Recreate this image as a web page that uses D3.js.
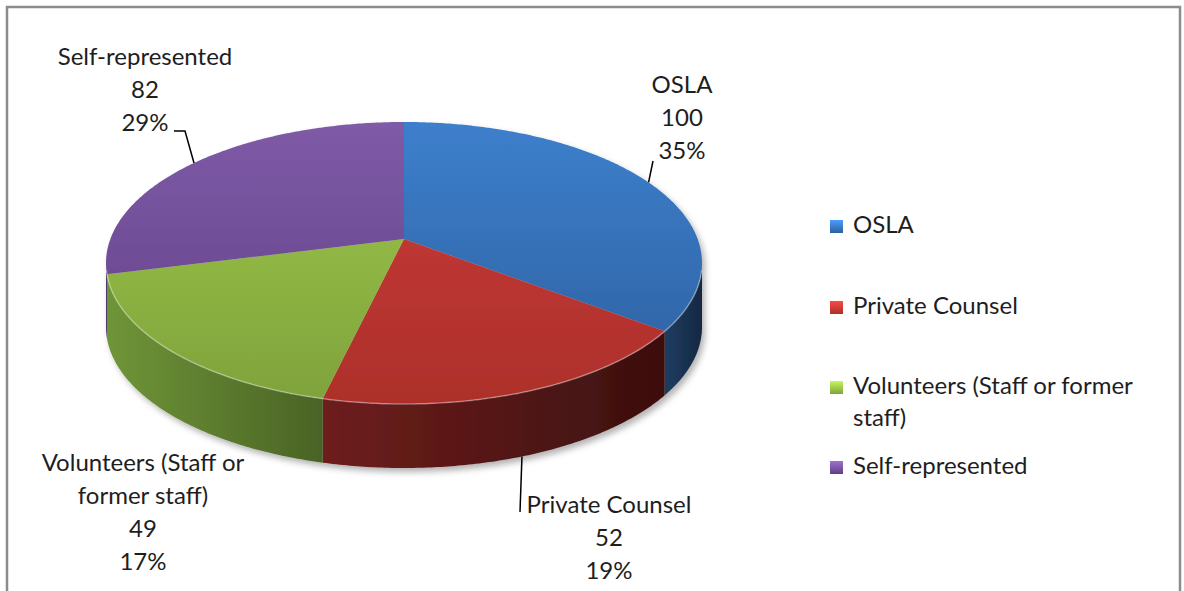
<!DOCTYPE html>
<html>
<head>
<meta charset="utf-8">
<script src="https://cdn.jsdelivr.net/npm/d3@7"></script>
<style>
  body { margin: 0; background: #fff; }
  svg text { font-family: Lato, "Open Sans", sans-serif; fill: #1e1e1e; }
</style>
</head>
<body>
<svg id="chart" width="1184" height="591"></svg>
<script>
// data
const categories = ["OSLA", "Private Counsel", "Volunteers (Staff or former staff)", "Self-represented"];
const values = [100, 52, 49, 82];
const percentLabels = ["35%", "19%", "17%", "29%"];

// how the names wrap in the data labels / legend
const labelNameLines = [["OSLA"], ["Private Counsel"], ["Volunteers (Staff or", "former staff)"], ["Self-represented"]];
const legendNameLines = [["OSLA"], ["Private Counsel"], ["Volunteers (Staff or former", "staff)"], ["Self-represented"]];

// top / side colours
const topLight = ["#3d7fcc", "#c93d38", "#9ec84c", "#7f5ba7"];
const topDark = ["#2d5f9e", "#ad2f2b", "#7fa23b", "#5f3f85"];
const sideLight = ["#1f3d63", "#6e1e1c", "#6f9538", "#5a3d7c"];
const sideDark = ["#142842", "#3c0f0f", "#4a6325", "#3b2752"];

const W = 1184, H = 591;
const svg = d3.select("#chart");
const defs = svg.append("defs");

// frame
svg.append("rect")
    .attr("x", 7).attr("y", 7)
    .attr("width", 1173).attr("height", 640)
    .attr("fill", "#fff")
    .attr("stroke", "#8c8c8c")
    .attr("stroke-width", 2.5);

/*
 * 3D pie geometry (perspective ellipse)
 */
const cx = 404, cy = 263, rx = 298, ry = 141, tilt = -0.17, depth = 64;

function proj(theta, dz = 0) {
    const c = Math.sin(theta), s = -Math.cos(theta);
    const den = 1 + tilt * s;
    return [cx + rx * c * Math.sqrt(1 - tilt * tilt) / den, cy + ry * (s + tilt) / den + dz];
}
const hub = [cx, cy + ry * tilt];

function arcPts(a0, a1, dz = 0) {
    const n = Math.max(2, Math.ceil(Math.abs(a1 - a0) / 0.01));
    return d3.range(n + 1).map(i => proj(a0 + (a1 - a0) * i / n, dz));
}

const pie = d3.pie().sort(null).value(d => d);
const arcs = pie(values);

// gradients
arcs.forEach((a, i) => {
    const gt = defs.append("linearGradient")
        .attr("id", "top" + i)
        .attr("gradientUnits", "userSpaceOnUse")
        .attr("x1", 0).attr("y1", cy - ry).attr("x2", 0).attr("y2", cy + ry);
    gt.append("stop").attr("offset", "0%").attr("stop-color", topLight[i]);
    gt.append("stop").attr("offset", "100%").attr("stop-color", topDark[i]);

    const gs = defs.append("linearGradient")
        .attr("id", "side" + i)
        .attr("x1", 0).attr("y1", 0).attr("x2", 1).attr("y2", 0);
    gs.append("stop").attr("offset", "0%").attr("stop-color", sideLight[i]);
    gs.append("stop").attr("offset", "100%").attr("stop-color", sideDark[i]);

    const gl = defs.append("linearGradient")
        .attr("id", "leg" + i)
        .attr("x1", 0).attr("y1", 0).attr("x2", 0).attr("y2", 1);
    gl.append("stop").attr("offset", "0%").attr("stop-color", d3.color(topLight[i]).brighter(0.6));
    gl.append("stop").attr("offset", "100%").attr("stop-color", topDark[i]);
});

const shadow = defs.append("filter").attr("id", "shadow")
    .attr("x", "-10%").attr("y", "-10%").attr("width", "120%").attr("height", "130%");
shadow.append("feDropShadow")
    .attr("dx", 3).attr("dy", 4).attr("stdDeviation", 3)
    .attr("flood-color", "#000").attr("flood-opacity", 0.3);

const pieG = svg.append("g").attr("filter", "url(#shadow)");
const line = d3.line();

// visible outer wall: lower half of the projected ellipse
const v0 = Math.acos(tilt), v1 = 2 * Math.PI - Math.acos(tilt);

arcs.forEach((a, i) => {
    const lo = Math.max(a.startAngle, v0), hi = Math.min(a.endAngle, v1);
    if (hi <= lo) return;
    const pts = arcPts(lo, hi).concat(arcPts(hi, lo, depth));
    pieG.append("path")
        .attr("d", line(pts) + "Z")
        .attr("fill", `url(#side${i})`);
});

arcs.forEach((a, i) => {
    const pts = [hub].concat(arcPts(a.startAngle, a.endAngle));
    pieG.append("path")
        .attr("d", line(pts) + "Z")
        .attr("fill", `url(#top${i})`);
});

// soft rim highlight along the front edge
svg.append("path")
    .attr("d", line(arcPts(v0 + 0.05, v1 - 0.05)))
    .attr("fill", "none")
    .attr("stroke", "rgba(255,255,255,0.35)")
    .attr("stroke-width", 1.5);

/*
 * Data labels
 */
const labelCenter = [[682, 93], [609, 513], [143, 471], [145, 65]];
const lineGap = 33;
const fontSize = 24;

arcs.forEach((a, i) => {
    const lines = labelNameLines[i].concat([String(values[i]), percentLabels[i]]);
    const [lx, ly] = labelCenter[i];
    const t = svg.append("text")
        .attr("text-anchor", "middle")
        .attr("font-size", fontSize);
    lines.forEach((s, k) => {
        t.append("tspan").attr("x", lx).attr("y", ly + k * lineGap).text(s);
    });
});

// leader lines, from the slice edge to the label
const mid = a => (a.startAngle + a.endAngle) / 2;
function frontDz(theta) { return (theta > v0 && theta < v1) ? depth : 0; }

const leaders = [
    { i: 0, to: [[653, 161]] },
    { i: 1, to: [[520, 512]] },
    { i: 3, to: [[185, 131], [174, 131]] }
];
leaders.forEach(l => {
    const th = mid(arcs[l.i]);
    const start = proj(th, frontDz(th));
    svg.append("path")
        .attr("d", line([start].concat(l.to)))
        .attr("fill", "none")
        .attr("stroke", "#000")
        .attr("stroke-width", 1.5);
});

/*
 * Legend
 */
const legendRowY = [233, 314, 394, 474];
const leg = svg.append("g");
categories.forEach((c, i) => {
    leg.append("rect")
        .attr("x", 830).attr("y", legendRowY[i] - 13)
        .attr("width", 13).attr("height", 13)
        .attr("fill", `url(#leg${i})`);
    const t = leg.append("text").attr("font-size", fontSize);
    legendNameLines[i].forEach((s, k) => {
        t.append("tspan").attr("x", 853).attr("y", legendRowY[i] + k * 32).text(s);
    });
});
</script>
</body>
</html>
